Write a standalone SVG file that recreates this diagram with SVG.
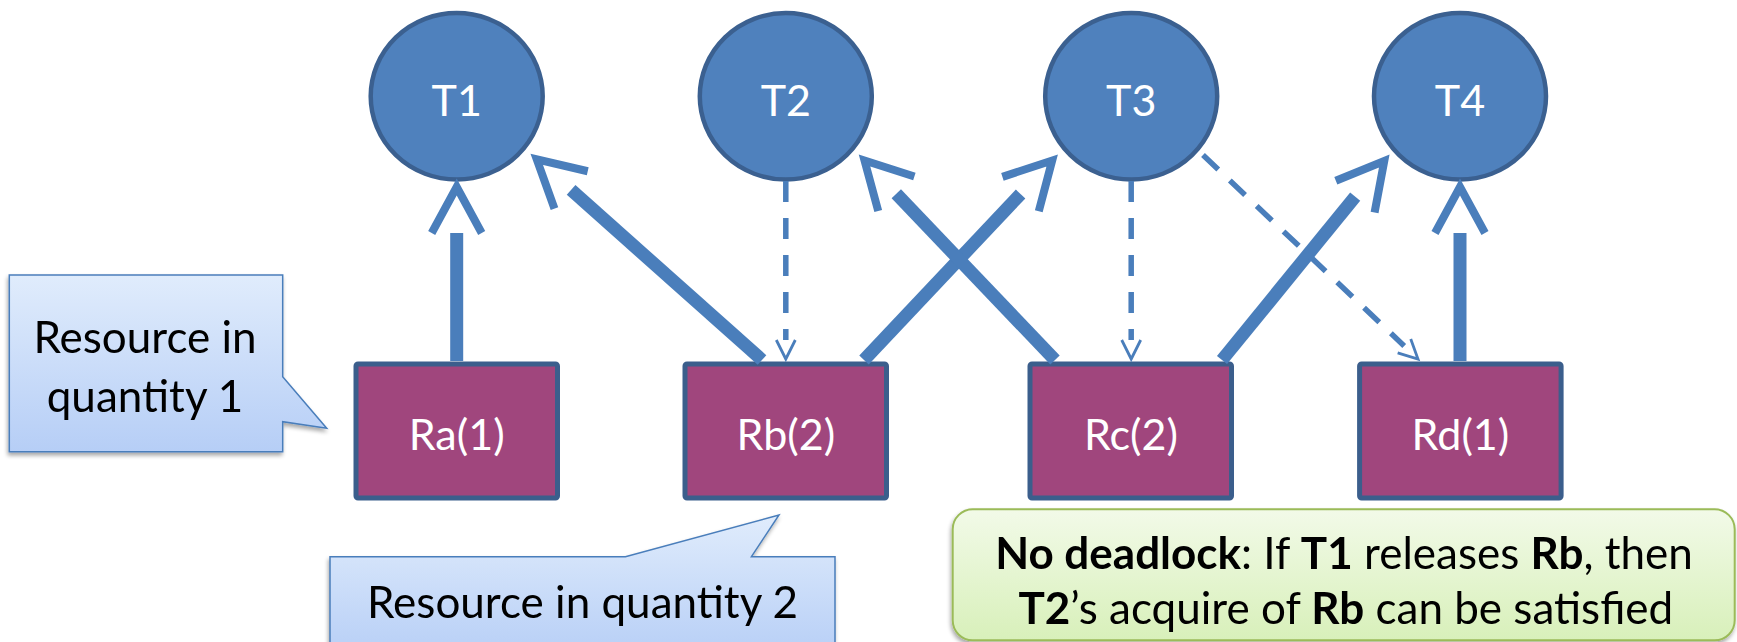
<svg xmlns="http://www.w3.org/2000/svg" width="1737" height="642" viewBox="0 0 1737 642">
<style>
.thread{fill:#4F81BD;stroke:#3B6090;stroke-width:4.5}
.res{fill:#A0467D;stroke:#3B5E8C;stroke-width:5}
.lbl{font-family:Lato,"Liberation Sans",sans-serif;font-size:43px;fill:#FFFFFF;text-anchor:middle}
.hold{fill:none;stroke:#4A7EBB;stroke-width:13;stroke-linecap:butt}
.req{fill:none;stroke:#4A7EBB;stroke-width:5.5;stroke-dasharray:21 16}
.ctext{font-family:Lato,"Liberation Sans",sans-serif;font-size:44px;fill:#000000;text-anchor:middle}
.ntext{font-family:Lato,"Liberation Sans",sans-serif;font-size:44px;fill:#000000;text-anchor:middle}
.b{font-weight:bold}
</style>
<defs>
<marker id="vbig" markerUnits="userSpaceOnUse" orient="auto" refX="0" refY="0" markerWidth="80" markerHeight="80" overflow="visible">
<path d="M0,-25 L46,0 L0,25" fill="none" stroke="#4A7EBB" stroke-width="8" stroke-linejoin="miter" stroke-miterlimit="10"/>
</marker>
<marker id="vsmall" markerUnits="userSpaceOnUse" orient="auto" refX="0" refY="0" markerWidth="40" markerHeight="40" overflow="visible">
<path d="M0,-9.5 L19,0 L0,9.5" fill="none" stroke="#4A7EBB" stroke-width="2.8" stroke-linejoin="miter"/>
</marker>
<linearGradient id="blueFill" x1="0" y1="0" x2="0" y2="1">
<stop offset="0" stop-color="#E0ECFC"/>
<stop offset="1" stop-color="#B6CEF6"/>
</linearGradient>
<linearGradient id="greenFill" x1="0" y1="0" x2="0" y2="1">
<stop offset="0" stop-color="#F2FAE8"/>
<stop offset="1" stop-color="#D8F0BA"/>
</linearGradient>
<filter id="shadow" x="-10%" y="-10%" width="130%" height="130%">
<feGaussianBlur in="SourceAlpha" stdDeviation="2"/>
<feOffset dx="-1" dy="3" result="o"/>
<feComponentTransfer><feFuncA type="linear" slope="0.35"/></feComponentTransfer>
<feMerge><feMergeNode/><feMergeNode in="SourceGraphic"/></feMerge>
</filter>
</defs>

<g id="T1"><ellipse class="thread" cx="456.7" cy="96.3" rx="86" ry="83.3"/><text class="lbl" x="456.7" y="116">T1</text></g>
<g id="T2"><ellipse class="thread" cx="785.8" cy="96.3" rx="86" ry="83.3"/><text class="lbl" x="785.8" y="116">T2</text></g>
<g id="T3"><ellipse class="thread" cx="1131.2" cy="96.3" rx="86" ry="83.3"/><text class="lbl" x="1131.2" y="116">T3</text></g>
<g id="T4"><ellipse class="thread" cx="1460" cy="96.3" rx="86" ry="83.3"/><text class="lbl" x="1460" y="116">T4</text></g>

<g id="Ra"><rect class="res" x="356" y="364" width="201.5" height="134" rx="2"/><text class="lbl" x="456.7" y="450">Ra(1)</text></g>
<g id="Rb"><rect class="res" x="685" y="364" width="201.5" height="134" rx="2"/><text class="lbl" x="785.8" y="450">Rb(2)</text></g>
<g id="Rc"><rect class="res" x="1030" y="364" width="201.5" height="134" rx="2"/><text class="lbl" x="1131" y="450">Rc(2)</text></g>
<g id="Rd"><rect class="res" x="1359.6" y="364" width="201.5" height="134" rx="2"/><text class="lbl" x="1460.4" y="450">Rd(1)</text></g>

<g id="connectors">
<line class="hold" x1="456.7" y1="361" x2="456.7" y2="233" marker-end="url(#vbig)"/>
<line class="hold" x1="762" y1="360" x2="571.1" y2="189.9" marker-end="url(#vbig)"/>
<line class="hold" x1="864" y1="360" x2="1020.6" y2="194" marker-end="url(#vbig)"/>
<line class="hold" x1="1055" y1="360" x2="896.3" y2="193.8" marker-end="url(#vbig)"/>
<line class="hold" x1="1222" y1="360" x2="1355.2" y2="196.6" marker-end="url(#vbig)"/>
<line class="hold" x1="1460" y1="361" x2="1460" y2="233" marker-end="url(#vbig)"/>
<line class="req" x1="785.8" y1="181" x2="785.8" y2="340" marker-end="url(#vsmall)"/>
<line class="req" x1="1131.2" y1="181" x2="1131.2" y2="340" marker-end="url(#vsmall)"/>
<line class="req" x1="1203" y1="155" x2="1404.2" y2="345.9" marker-end="url(#vsmall)"/>
</g>

<g id="callout-q1" filter="url(#shadow)">
<path d="M9.3,275 H282.7 V376.7 L326.7,428.3 L282.7,421.7 V451.7 H9.3 Z" fill="url(#blueFill)" stroke="#4A7EBB" stroke-width="1.5"/>
<text class="ctext" x="145" y="353.3">Resource in</text>
<text class="ctext" x="145" y="411.7">quantity 1</text>
</g>

<g id="callout-q2" filter="url(#shadow)">
<path d="M330,556.7 H625.4 L779,515 L751.4,556.7 H835 V660 H330 Z" fill="url(#blueFill)" stroke="#4A7EBB" stroke-width="1.5"/>
<text class="ctext" x="582.5" y="618.3">Resource in quantity 2</text>
</g>

<g id="note" filter="url(#shadow)">
<rect x="952.7" y="509.3" width="782" height="131" rx="20" fill="url(#greenFill)" stroke="#9BBB59" stroke-width="2"/>
<text class="ntext" x="1344" y="569"><tspan class="b">No deadlock</tspan>: If <tspan class="b">T1</tspan> releases <tspan class="b">Rb</tspan>, then</text>
<text class="ntext" x="1345.8" y="624"><tspan class="b">T2</tspan>’s acquire of <tspan class="b">Rb</tspan> can be satisfied</text>
</g>
</svg>
